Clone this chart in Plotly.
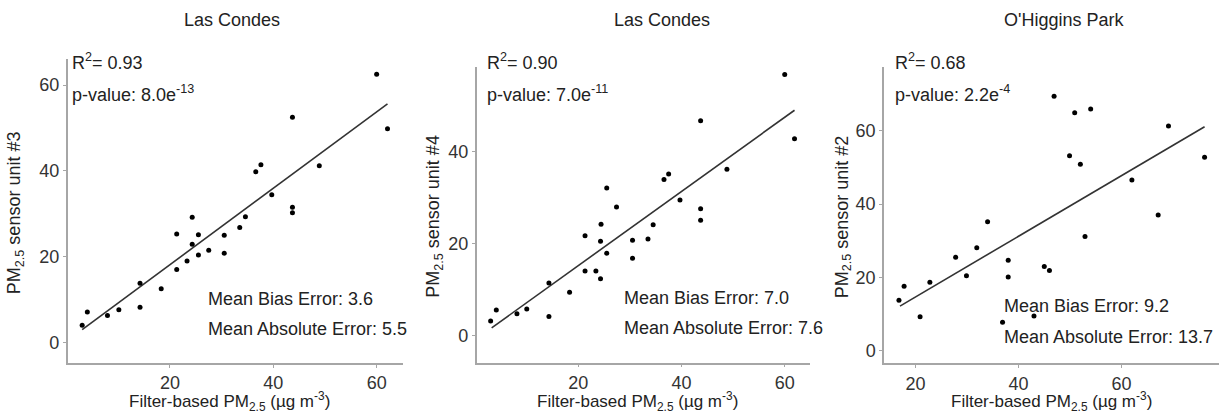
import plotly.graph_objects as go

W, H = 1221, 414

titles = ["Las Condes", "Las Condes", "O'Higgins Park"]
y_titles = ["PM<sub>2.5</sub> sensor unit #3", "PM<sub>2.5</sub> sensor unit #4", "PM<sub>2.5</sub> sensor unit #2"]
x_title = "Filter-based PM<sub>2.5</sub> (µg m<sup>-3</sup>)"
r2_labels = ["R<sup>2</sup>= 0.93", "R<sup>2</sup>= 0.90", "R<sup>2</sup>= 0.68"]
p_labels = ["p-value: 8.0e<sup>-13</sup>", "p-value: 7.0e<sup>-11</sup>", "p-value: 2.2e<sup>-4</sup>"]
mbe_labels = ["Mean Bias Error: 3.6", "Mean Bias Error: 7.0", "Mean Bias Error: 9.2"]
mae_labels = ["Mean Absolute Error: 5.5", "Mean Absolute Error: 7.6", "Mean Absolute Error: 13.7"]

x1 = [60.0, 62.1, 43.7, 36.6, 37.6, 48.9, 39.7, 43.7, 43.7, 24.3, 34.6, 33.5, 21.3, 25.5,
      30.5, 24.3, 21.3, 23.3, 25.5, 27.5, 30.5, 14.2, 18.3, 14.2, 10.1, 7.9, 4.0, 3.0]
y1 = [62.5, 49.8, 52.5, 39.8, 41.4, 41.2, 34.4, 31.5, 30.2, 29.2, 29.3, 26.8, 25.3, 25.1,
      25.0, 22.9, 17.0, 19.0, 20.4, 21.5, 20.8, 13.8, 12.5, 8.2, 7.6, 6.3, 7.1, 4.0]
fit1_x = [3.0, 62.1]
fit1_y = [3.0, 55.6]

x2 = [60.0, 61.9, 43.7, 48.8, 37.5, 36.6, 39.7, 43.7, 43.7, 25.5, 27.4, 24.4, 34.5, 21.3, 24.3,
      30.5, 33.5, 25.5, 30.5, 21.3, 23.4, 24.3, 14.3, 18.3, 10.0, 4.1, 8.1, 14.3, 3.0]
y2 = [56.9, 42.9, 46.8, 36.2, 35.2, 34.0, 29.5, 27.6, 25.1, 32.1, 28.0, 24.2, 24.1, 21.7, 20.5,
      20.7, 21.0, 17.9, 16.8, 14.0, 14.0, 12.3, 11.4, 9.4, 5.7, 5.5, 4.7, 4.1, 3.1]
fit2_x = [3.2, 61.9]
fit2_y = [1.6, 49.1]

x3 = [46.9, 50.9, 54.0, 49.9, 52.0, 69.1, 76.1, 62.0, 67.1, 34.0, 52.9, 31.9, 27.8, 38.0,
      29.9, 38.0, 45.0, 46.0, 22.8, 17.8, 16.8, 20.9, 36.9, 43.0]
y3 = [69.4, 64.9, 65.9, 53.2, 50.9, 61.3, 52.8, 46.6, 37.0, 35.2, 31.2, 28.1, 25.5, 24.7,
      20.5, 20.1, 23.0, 21.9, 18.7, 17.6, 13.8, 9.3, 7.8, 9.5]
fit3_x = [17.0, 76.1]
fit3_y = [12.2, 61.1]

xs = [x1, x2, x3]
ys = [y1, y2, y3]
fxs = [fit1_x, fit2_x, fit3_x]
fys = [fit1_y, fit2_y, fit3_y]

x_ranges = [[0.2, 65.1], [0.3, 64.9], [13.9, 78.9]]
y_ranges = [[-4.8, 66.0], [-6.0, 58.6], [-3.4, 77.3]]
y_ticks = [[0, 20, 40, 60], [0, 20, 40], [0, 20, 40, 60]]
x_ticks = [20, 40, 60]

# panel pixel boxes: left, right, top, bottom
boxes = [(67.7, 403, 59.3, 363), (476.7, 810, 66.7, 362.7), (884, 1219, 67.3, 363.3)]
title_cx = [232, 662, 1064]
ytitle_cx = [15, 435, 843]
xtitle_cx = [229, 637.5, 1051]
r2_x = [70, 485, 892.7]
err_x = [206, 621.7, 1001.7]
mbe_y = [299, 298.3, 306]
mae_y = [329, 328.3, 336.7]

FONT = "Liberation Sans, Arial, sans-serif"
AX_COL = "#a6a6a6"
TXT = "#222222"

def px(x):
    return x / W

def py(y):
    return 1 - y / H

fig = go.Figure()
annotations = []
for i in range(3):
    sfx = "" if i == 0 else str(i + 1)
    xa = "x" + sfx
    ya = "y" + sfx
    fig.add_trace(go.Scatter(x=fxs[i], y=fys[i], mode="lines",
                             line=dict(color="#333333", width=1.6),
                             xaxis=xa, yaxis=ya, showlegend=False, hoverinfo="skip"))
    fig.add_trace(go.Scatter(x=xs[i], y=ys[i], mode="markers",
                             marker=dict(color="black", size=5),
                             xaxis=xa, yaxis=ya, showlegend=False, cliponaxis=False))
    l, r, t, b = boxes[i]
    axis_common = dict(showline=True, linecolor=AX_COL, linewidth=1.5, mirror=False,
                       showgrid=False, zeroline=False, ticks="outside", ticklen=3,
                       tickcolor=AX_COL, tickwidth=1,
                       tickfont=dict(family=FONT, size=18, color="#333333"))
    fig.layout["xaxis" + sfx] = dict(axis_common, domain=[px(l), px(r)], range=x_ranges[i],
                                     tickvals=x_ticks, anchor=ya)
    fig.layout["yaxis" + sfx] = dict(axis_common, domain=[py(b), py(t)], range=y_ranges[i],
                                     tickvals=y_ticks[i], anchor=xa)
    cy = (t + b) / 2
    annotations += [
        dict(text=titles[i], x=px(title_cx[i]), y=py(20), xref="paper", yref="paper",
             showarrow=False, xanchor="center", yanchor="middle",
             font=dict(family=FONT, size=18, color=TXT)),
        dict(text=y_titles[i], x=px(ytitle_cx[i]), y=py(cy + 2), xref="paper", yref="paper",
             showarrow=False, xanchor="center", yanchor="middle", textangle=-90,
             font=dict(family=FONT, size=18, color=TXT)),
        dict(text=x_title, x=px(xtitle_cx[i]), y=py(401), xref="paper", yref="paper",
             showarrow=False, xanchor="center", yanchor="middle",
             font=dict(family=FONT, size=17, color=TXT)),
        dict(text=r2_labels[i], x=px(r2_x[i]), y=py(61.7), xref="paper", yref="paper",
             showarrow=False, xanchor="left", yanchor="middle",
             font=dict(family=FONT, size=18, color=TXT)),
        dict(text=p_labels[i], x=px(r2_x[i]), y=py(93.3), xref="paper", yref="paper",
             showarrow=False, xanchor="left", yanchor="middle",
             font=dict(family=FONT, size=18, color=TXT)),
        dict(text=mbe_labels[i], x=px(err_x[i]), y=py(mbe_y[i]), xref="paper", yref="paper",
             showarrow=False, xanchor="left", yanchor="middle",
             font=dict(family=FONT, size=18, color=TXT)),
        dict(text=mae_labels[i], x=px(err_x[i]), y=py(mae_y[i]), xref="paper", yref="paper",
             showarrow=False, xanchor="left", yanchor="middle",
             font=dict(family=FONT, size=18, color=TXT)),
    ]

fig.update_layout(width=W, height=H, margin=dict(l=0, r=0, t=0, b=0),
                  paper_bgcolor="white", plot_bgcolor="white",
                  annotations=annotations, showlegend=False,
                  font=dict(family=FONT))
fig.write_html("out.html", config={"displayModeBar": False},
               post_script="document.body.style.margin='0';document.body.style.padding='0';")
